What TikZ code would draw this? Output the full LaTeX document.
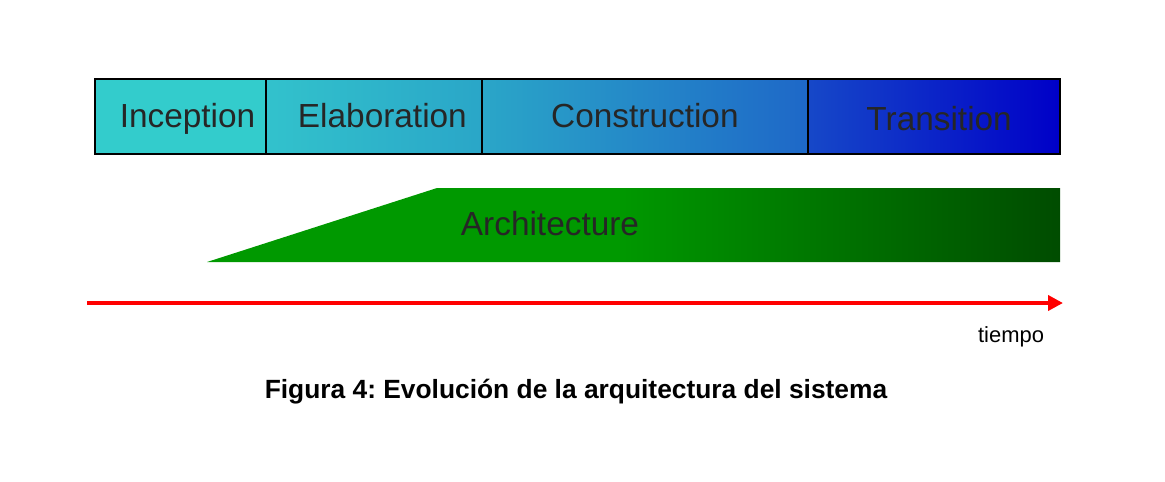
\documentclass[tikz,border=0pt]{standalone}
\usepackage{fontspec}
\setmainfont{Liberation Sans}
\usetikzlibrary{arrows.meta,positioning}
\definecolor{phaseteal}{RGB}{51,204,204}
\definecolor{phasecyan}{RGB}{50,194,204}
\definecolor{phasesky}{RGB}{42,166,200}
\definecolor{phaseazure}{RGB}{30,104,200}
\definecolor{phaseroyal}{RGB}{22,72,200}
\definecolor{phaseblue}{RGB}{0,0,200}
\definecolor{archgreen}{RGB}{0,153,0}
\definecolor{archdark}{RGB}{0,76,0}
\definecolor{timered}{RGB}{255,0,0}
\pgfdeclarehorizontalshading{archshade}{100bp}{
  color(0bp)=(archgreen); color(49bp)=(archgreen);
  color(75bp)=(archdark); color(100bp)=(archdark)}
\frenchspacing

\begin{document}
\begin{tikzpicture}[
    x=0.02cm,
    y=-0.02cm,
    phase box/.style={
      rectangle,
      draw=black,
      line width=1.1pt,
      outer sep=0pt,
      minimum height=1.5cm,
      inner sep=0pt,
      text height=17pt,
      text depth=4pt,
      text=black!85,
      font=\fontsize{19}{22}\selectfont
    },
    time line/.style={
      timered,
      line width=2.8pt,
      -{Triangle[length=8.5pt,width=8.5pt]}
    }
]
\useasboundingbox (0,0) rectangle (1165,481);

% Phases of the process.
\node[phase box,minimum width=3.42cm,left color=phaseteal,right color=phaseteal!96!phasecyan]
  (inception) at (180.5,116.5) {\hspace*{8pt}Inception};
\node[phase box,minimum width=4.32cm,left color=phasecyan,right color=phasesky,
  right=0pt of inception] (elaboration) {\hspace*{9.6pt}Elaboration};
\node[phase box,minimum width=6.52cm,left color=phasesky,right color=phaseazure,
  right=0pt of elaboration] (construction) {Construction};
\node[phase box,minimum width=5.04cm,left color=phaseroyal,right color=phaseblue,
  right=0pt of construction] (transition) {\raisebox{-1.7pt}{\hspace*{6pt}Transition}};

% Architecture grows along the phases.
\path[shading=archshade]
  (207,262) -- (437,188) -- (1060,188) -- (1060,262) -- cycle;
\node[anchor=base,text=black!85,font=\fontsize{19}{22}\selectfont]
  (arch) at (550,235) {Architecture};

% Time axis.
\coordinate (tstart) at (87,303);
\coordinate (tend) at (1063,303);
\draw[time line] (tstart) -- (tend);
\node[font=\fontsize{12.5}{14}\selectfont] (tiempo) at (1011,337) {tiempo};

\node[anchor=base,font=\bfseries\fontsize{15}{17}\selectfont] (caption) at (576,398)
  {Figura 4: Evolución de la arquitectura del sistema};
\end{tikzpicture}
\end{document}
